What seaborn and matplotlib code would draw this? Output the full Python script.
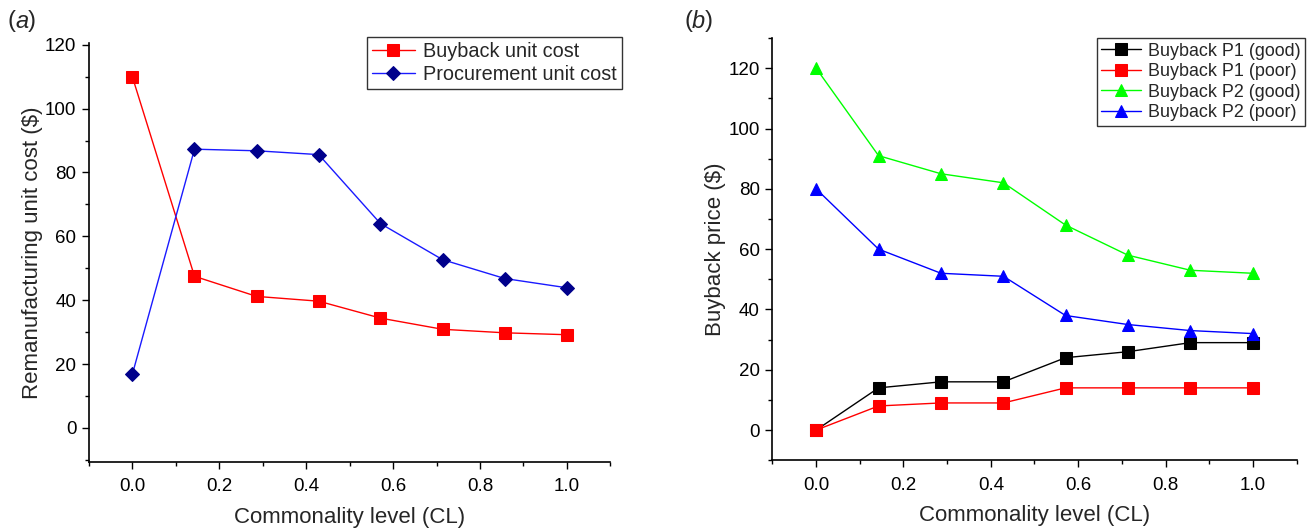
import numpy as np
import pandas as pd
import matplotlib
matplotlib.use("Agg")
import matplotlib.pyplot as plt
import seaborn as sns
from matplotlib.ticker import MultipleLocator, FormatStrFormatter

sns.set_theme(style="ticks")
plt.rcParams['font.family'] = ['Liberation Sans', 'DejaVu Sans']

# ---- data ----
cl = [0.0, 0.143, 0.286, 0.429, 0.571, 0.714, 0.857, 1.0]
buyback_unit_cost = [110, 47.5, 41.2, 39.7, 34.4, 30.9, 29.8, 29.2]
procurement_unit_cost = [16.8, 87.3, 86.8, 85.6, 64.0, 52.7, 46.8, 43.9]

p1_good = [0, 14, 16, 16, 24, 26, 29, 29]
p1_poor = [0, 8, 9, 9, 14, 14, 14, 14]
p2_good = [120, 91, 85, 82, 68, 58, 53, 52]
p2_poor = [80, 60, 52, 51, 38, 35, 33, 32]

left_names = ["Buyback unit cost", "Procurement unit cost"]
right_names = ["Buyback P1 (good)", "Buyback P1 (poor)", "Buyback P2 (good)", "Buyback P2 (poor)"]

fig = plt.figure(figsize=(13.07, 5.29), dpi=100)
axA = fig.add_axes([0.068, 0.127, 0.399, 0.792])
axB = fig.add_axes([0.591, 0.130, 0.401, 0.798])

# ---- panel a ----
left_series = [
    (buyback_unit_cost, "#ff0000", "#ff0000", "s", 8),
    (procurement_unit_cost, "#1a1aff", "#00008b", "D", 7.5),
]
for name, (vals, lc, mc, mk, ms) in zip(left_names, left_series):
    df = pd.DataFrame({"x": cl, "y": vals})
    sns.lineplot(data=df, x="x", y="y", ax=axA, color=lc, marker=mk, markersize=ms,
                 markerfacecolor=mc, markeredgecolor=mc, linewidth=1.0, label=name, sort=False)

axA.set_xlim(-0.1, 1.1)
axA.set_ylim(-10.6, 120.6)
axA.set_ylabel("Remanufacturing unit cost ($)", fontsize=16, labelpad=1.5)

# ---- panel b ----
right_series = [
    (p1_good, "#000000", "s", 8),
    (p1_poor, "#ff0000", "s", 8),
    (p2_good, "#00ff00", "^", 9),
    (p2_poor, "#0000ff", "^", 9),
]
for name, (vals, c, mk, ms) in zip(right_names, right_series):
    df = pd.DataFrame({"x": cl, "y": vals})
    sns.lineplot(data=df, x="x", y="y", ax=axB, color=c, marker=mk, markersize=ms,
                 markerfacecolor=c, markeredgecolor=c, linewidth=1.0, label=name, sort=False)

axB.set_xlim(-0.1, 1.1)
axB.set_ylim(-10, 130)
axB.set_ylabel("Buyback price ($)", fontsize=16, labelpad=1.5)

for ax in (axA, axB):
    ax.xaxis.set_major_locator(MultipleLocator(0.2))
    ax.xaxis.set_minor_locator(MultipleLocator(0.1))
    ax.yaxis.set_major_locator(MultipleLocator(20))
    ax.yaxis.set_minor_locator(MultipleLocator(10))
    ax.xaxis.set_major_formatter(FormatStrFormatter('%.1f'))
    ax.set_xlabel("Commonality level (CL)", fontsize=16, labelpad=8)
    sns.despine(ax=ax)
    for s in ("left", "bottom"):
        ax.spines[s].set_color("black")
        ax.spines[s].set_linewidth(1.2)
    ax.tick_params(which="major", direction="out", length=5, width=1.0, labelsize=13.5, colors="black")
    ax.tick_params(axis="x", which="major", pad=7)
    ax.tick_params(axis="y", which="major", pad=4)
    ax.tick_params(which="minor", direction="out", length=3, width=1.0, colors="black")

legA = axA.legend(loc="upper right", bbox_to_anchor=(0.4759, 0.930), bbox_transform=fig.transFigure,
                  fontsize=14.3, frameon=True, fancybox=False, edgecolor="black", borderpad=0.25,
                  labelspacing=0.2, handlelength=2.2, handletextpad=0.4, borderaxespad=0)
legA.get_frame().set_linewidth(1.0)
legB = axB.legend(loc="upper right", bbox_to_anchor=(0.9985, 0.928), bbox_transform=fig.transFigure,
                  fontsize=12.9, frameon=True, fancybox=False, edgecolor="black", borderpad=0.25,
                  labelspacing=0.2, handlelength=2.2, handletextpad=0.4, borderaxespad=0)
legB.get_frame().set_linewidth(1.0)

def panel_label(x, letter):
    fig.text(x, 0.96, "(", fontsize=17, va="center")
    fig.text(x + 0.0055, 0.96, letter, fontsize=17, va="center", style="italic")
    fig.text(x + 0.0055 + 0.0095, 0.96, ")", fontsize=17, va="center")

panel_label(0.006, "a")
panel_label(0.524, "b")

fig.savefig("out.png", dpi=100)
